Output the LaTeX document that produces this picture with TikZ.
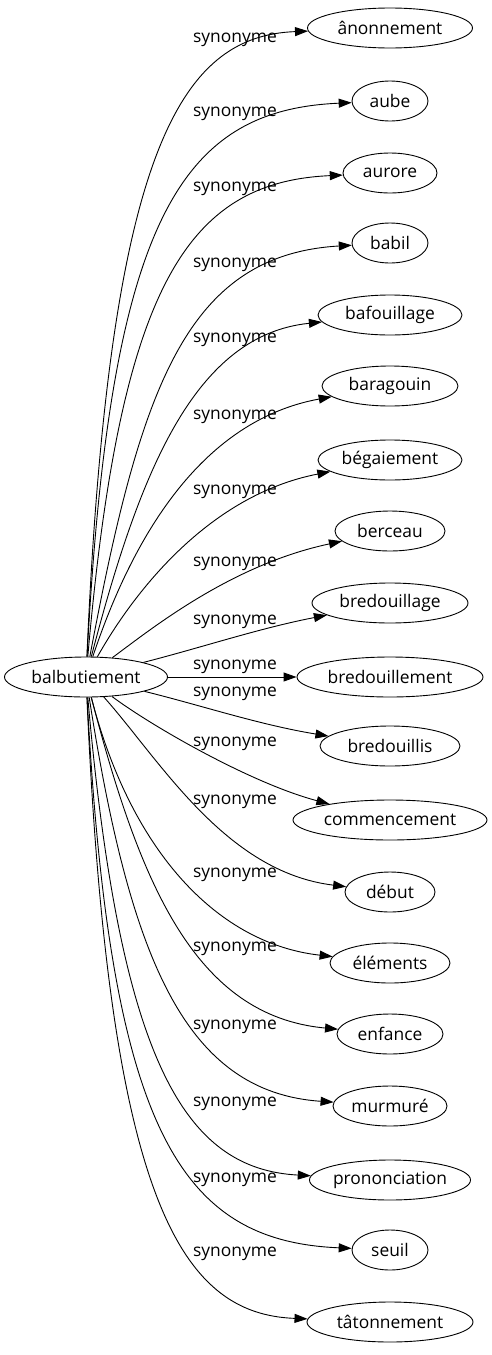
\documentclass[tikz,border=0pt]{standalone}
\usepackage{fontspec}
\setmainfont{Open Sans}
\usetikzlibrary{shapes.geometric}
\usetikzlibrary{arrows.meta}
\tikzset{
    word/.style={draw, ellipse, inner sep=0pt, minimum height=40pt, line width=0.9pt,
        font=\fontsize{17.4}{20}\selectfont},
    rel/.style={inner sep=0pt, font=\fontsize{17.4}{20}\selectfont},
    syn/.style={-{Triangle[length=13pt,width=9pt]}, line width=0.9pt},
}
\begin{document}
\begin{tikzpicture}[x=1pt,y=-1pt]
    \useasboundingbox (0,0) rectangle (492,1355);

    \node[word, minimum width=163pt] (balbutiement) at (86,677) {balbutiement};

    \node[word, minimum width=165pt] (anonnement) at (390,28) {ânonnement};
    \node[word, minimum width=76pt] (aube) at (390,101) {aube};
    \node[word, minimum width=94pt] (aurore) at (390,173) {aurore};
    \node[word, minimum width=76pt] (babil) at (390,243) {babil};
    \node[word, minimum width=144pt] (bafouillage) at (390,315) {bafouillage};
    \node[word, minimum width=136pt] (baragouin) at (390,386) {baragouin};
    \node[word, minimum width=144pt] (begaiement) at (390,460) {bégaiement};
    \node[word, minimum width=110pt] (berceau) at (390,531) {berceau};
    \node[word, minimum width=156pt] (bredouillage) at (390,603) {bredouillage};
    \node[word, minimum width=186pt] (bredouillement) at (390,677) {bredouillement};
    \node[word, minimum width=140pt] (bredouillis) at (390,746) {bredouillis};
    \node[word, minimum width=194pt] (commencement) at (390,820) {commencement};
    \node[word, minimum width=90pt] (debut) at (390,892) {début};
    \node[word, minimum width=120pt] (elements) at (390,963) {éléments};
    \node[word, minimum width=106pt] (enfance) at (390,1034) {enfance};
    \node[word, minimum width=114pt] (murmure) at (390,1106) {murmuré};
    \node[word, minimum width=160pt] (prononciation) at (390,1180) {prononciation};
    \node[word, minimum width=76pt] (seuil) at (390,1250) {seuil};
    \node[word, minimum width=166pt] (tatonnement) at (390,1322) {tâtonnement};

    % arrows
    \draw[syn] (balbutiement) .. controls (109,150) and (180,36) .. (anonnement);
    \draw[syn] (balbutiement) .. controls (110,220) and (180,110) .. (aube);
    \draw[syn] (balbutiement) .. controls (120,290) and (185,182) .. (aurore);
    \draw[syn] (balbutiement) .. controls (140,390) and (185,255) .. (babil);
    \draw[syn] (balbutiement) .. controls (140,470) and (195,335) .. (bafouillage);
    \draw[syn] (balbutiement) .. controls (135,530) and (205,420) .. (baragouin);
    \draw[syn] (balbutiement) .. controls (135,590) and (210,495) .. (begaiement);
    \draw[syn] (balbutiement) .. controls (150,630) and (230,565) .. (berceau);
    \draw[syn] (balbutiement) .. controls (200,648) and (260,628) .. (bredouillage);
    \draw[syn] (balbutiement) -- (bredouillement);
    \draw[syn] (balbutiement) .. controls (200,705) and (260,725) .. (bredouillis);
    \draw[syn] (balbutiement) .. controls (150,725) and (250,783) .. (commencement);
    \draw[syn] (balbutiement) .. controls (160,760) and (225,872) .. (debut);
    \draw[syn] (balbutiement) .. controls (132,855) and (220,944) .. (elements);
    \draw[syn] (balbutiement) .. controls (140,884) and (195,1016) .. (enfance);
    \draw[syn] (balbutiement) .. controls (130,959) and (185,1092) .. (murmure);
    \draw[syn] (balbutiement) .. controls (120,1063) and (185,1169) .. (prononciation);
    \draw[syn] (balbutiement) .. controls (110,1131) and (180,1241) .. (seuil);
    \draw[syn] (balbutiement) .. controls (109,1200) and (180,1314) .. (tatonnement);

    % labels
    \node[rel] (l1) at (235,40) {synonyme};
    \node[rel] (l2) at (235,114) {synonyme};
    \node[rel] (l3) at (235,189) {synonyme};
    \node[rel] (l4) at (235,265) {synonyme};
    \node[rel] (l5) at (235,340) {synonyme};
    \node[rel] (l6) at (235,417) {synonyme};
    \node[rel] (l7) at (235,492) {synonyme};
    \node[rel] (l8) at (235,564) {synonyme};
    \node[rel] (l9) at (235,622) {synonyme};
    \node[rel] (l10) at (235,667) {synonyme};
    \node[rel] (l11) at (235,694) {synonyme};
    \node[rel] (l12) at (235,744) {synonyme};
    \node[rel] (l13) at (235,802) {synonyme};
    \node[rel] (l14) at (235,875) {synonyme};
    \node[rel] (l15) at (235,949) {synonyme};
    \node[rel] (l16) at (235,1027) {synonyme};
    \node[rel] (l17) at (235,1104) {synonyme};
    \node[rel] (l18) at (235,1180) {synonyme};
    \node[rel] (l19) at (235,1254) {synonyme};
\end{tikzpicture}
\end{document}
